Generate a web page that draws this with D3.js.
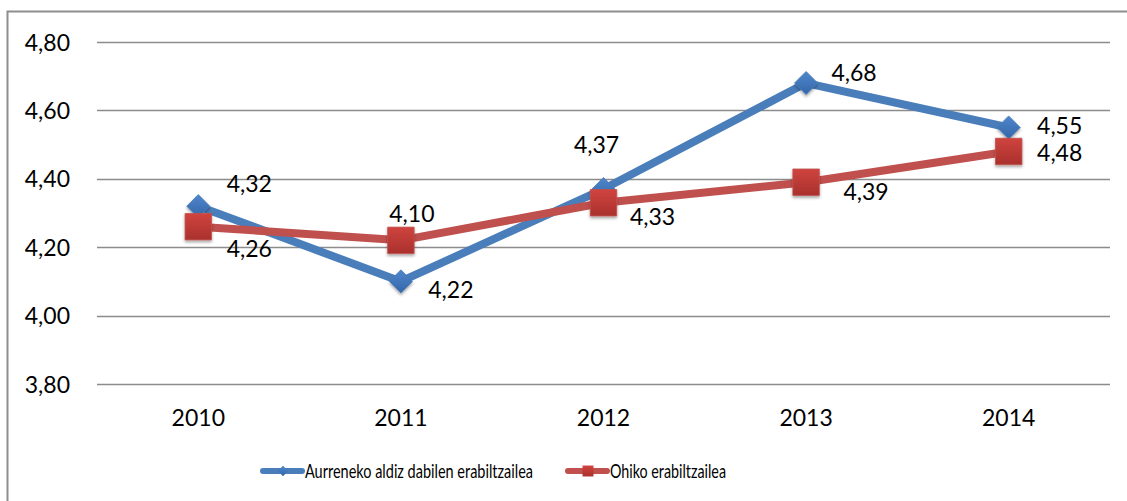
<!DOCTYPE html>
<html>
<head>
<meta charset="utf-8">
<script src="https://cdn.jsdelivr.net/npm/d3@7"></script>
<style>
  body { margin: 0; background: #fff; }
  svg text { font-family: Lato, "Open Sans", sans-serif; fill: #000; }
</style>
</head>
<body>
<svg id="chart" width="1127" height="501"></svg>
<script>
// data
var years = ["2010", "2011", "2012", "2013", "2014"];
var firstTime = [4.32, 4.10, 4.37, 4.68, 4.55];   // Aurreneko aldiz dabilen erabiltzailea
var regular = [4.26, 4.22, 4.33, 4.39, 4.48];     // Ohiko erabiltzailea
var seriesNames = ["Aurreneko aldiz dabilen erabiltzailea", "Ohiko erabiltzailea"];
var yTicks = [3.8, 4.0, 4.2, 4.4, 4.6, 4.8];

// label placement (offset from point, px) -- chart had hand moved labels
var blueLabelOff = [[51, -22], [11, -67], [-7, -44], [48, -10], [51, -2]];
var redLabelOff = [[51, 22], [50, 50], [49, 14], [60, 10], [51, 2]];

var fmt = function (v) { return d3.format(".2f")(v).replace(".", ","); };

var svg = d3.select("#chart");
var margin = { top: 42, left: 97, right: 17, bottom: 117 };
var width = 1127, height = 501;

// frame
svg.append("rect")
  .attr("x", 7.5).attr("y", 11.5)
  .attr("width", 1140).attr("height", 520)
  .attr("fill", "none").attr("stroke", "#8e8e8e").attr("stroke-width", 2);

var x = d3.scaleBand().domain(years).range([margin.left, width - margin.right]);
var y = d3.scaleLinear().domain([3.8, 4.8]).range([height - margin.bottom, margin.top]);
var cx = function (d) { return x(d) + x.bandwidth() / 2; };

// gridlines
svg.append("g").selectAll("line").data(yTicks).enter().append("line")
  .attr("x1", margin.left).attr("x2", width - margin.right)
  .attr("y1", function (d) { return Math.round(y(d)) + 0.5; })
  .attr("y2", function (d) { return Math.round(y(d)) + 0.5; })
  .attr("stroke", "#8c8c8c").attr("stroke-width", 1.6);

// axes
var yAxis = svg.append("g")
  .attr("transform", "translate(" + (margin.left - 27) + ",0)")
  .call(d3.axisLeft(y).tickValues(yTicks).tickSize(0).tickPadding(0).tickFormat(fmt));
yAxis.select(".domain").remove();
yAxis.selectAll("text").style("font-size", "23px").attr("dy", "0.35em");

var xAxis = svg.append("g")
  .attr("transform", "translate(0," + (height - margin.bottom) + ")")
  .call(d3.axisBottom(x).tickSize(0).tickPadding(0));
xAxis.select(".domain").remove();
xAxis.selectAll("text").style("font-size", "23px").attr("y", 34).attr("dy", "0.35em");

// gradients for markers
var defs = svg.append("defs");
function grad(id, c1, c2) {
  var g = defs.append("linearGradient").attr("id", id)
    .attr("x1", 0).attr("y1", 0).attr("x2", 0).attr("y2", 1);
  g.append("stop").attr("offset", "0%").attr("stop-color", c1);
  g.append("stop").attr("offset", "100%").attr("stop-color", c2);
}
grad("gBlue", "#4f86cc", "#3466a8");
grad("gRed", "#d0443f", "#a9302c");
var f = defs.append("filter").attr("id", "shadow").attr("x", "-30%").attr("y", "-30%").attr("width", "160%").attr("height", "160%");
f.append("feDropShadow").attr("dx", 0).attr("dy", 2).attr("stdDeviation", 1.5).attr("flood-opacity", 0.35);

var line = d3.line()
  .x(function (d, i) { return cx(years[i]); })
  .y(function (d) { return y(d); });

var diamond = d3.symbol().type(d3.symbolDiamond2).size(340);
var square = d3.symbol().type(d3.symbolSquare).size(700);

function drawSeries(vals, color, fillId, sym) {
  var g = svg.append("g");
  g.append("path").datum(vals)
    .attr("d", line)
    .attr("fill", "none").attr("stroke", color).attr("stroke-width", 8)
    .attr("stroke-linejoin", "round");
  g.selectAll(".mk").data(vals).enter().append("path")
    .attr("class", "mk")
    .attr("d", sym)
    .attr("transform", function (d, i) { return "translate(" + cx(years[i]) + "," + y(d) + ")"; })
    .attr("fill", "url(#" + fillId + ")")
    .attr("stroke", color).attr("stroke-width", 0.8)
    .attr("filter", "url(#shadow)");
  return g;
}

drawSeries(firstTime, "#4a7ebb", "gBlue", diamond);
drawSeries(regular, "#c0504d", "gRed", square);

function drawLabels(vals, offs) {
  svg.append("g").selectAll("text").data(vals).enter().append("text")
    .attr("x", function (d, i) { return cx(years[i]) + offs[i][0]; })
    .attr("y", function (d, i) { return y(d) + offs[i][1]; })
    .attr("text-anchor", "middle").attr("dy", "0.35em")
    .style("font-size", "23px")
    .text(fmt);
}
drawLabels(firstTime, blueLabelOff);
drawLabels(regular, redLabelOff);

// legend
var legend = svg.append("g").attr("transform", "translate(0,471)");
var legItems = [
  { name: seriesNames[0], color: "#4a7ebb", fill: "gBlue", x: 263, sym: d3.symbol().type(d3.symbolDiamond2).size(70), tw: 228 },
  { name: seriesNames[1], color: "#c0504d", fill: "gRed", x: 568, sym: d3.symbol().type(d3.symbolSquare).size(120), tw: 116 }
];
legItems.forEach(function (it) {
  legend.append("line")
    .attr("x1", it.x).attr("x2", it.x + 39).attr("y1", 0).attr("y2", 0)
    .attr("stroke", it.color).attr("stroke-width", 6).attr("stroke-linecap", "round");
  legend.append("path").attr("d", it.sym)
    .attr("transform", "translate(" + (it.x + 20) + ",0)")
    .attr("fill", "url(#" + it.fill + ")");
  legend.append("text")
    .attr("x", it.x + 42).attr("y", 0).attr("dy", "0.35em")
    .attr("textLength", it.tw).attr("lengthAdjust", "spacingAndGlyphs")
    .style("font-size", "20px")
    .text(it.name);
});
</script>
</body>
</html>
